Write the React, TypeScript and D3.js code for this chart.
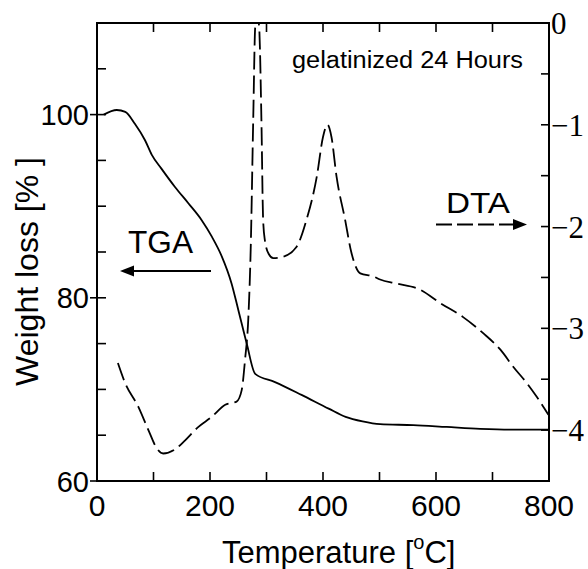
import React from "react";
import * as d3 from "d3";

const tgaTemp = [12, 35, 50, 67, 85, 97, 114, 138, 162, 185, 203, 221, 238, 250, 265, 280, 315, 362, 410, 440, 470, 501, 560, 619, 678, 737, 800];
const tgaWeight = [100.0, 100.5, 100.3, 99.0, 97.2, 95.6, 94.1, 92.1, 90.3, 88.5, 86.7, 84.5, 81.6, 78.7, 75.0, 71.7, 70.8, 69.4, 67.9, 67.0, 66.5, 66.2, 66.1, 65.9, 65.7, 65.6, 65.6];

const dtaTemp = [37, 50, 73, 91, 106, 117, 138, 156, 179, 203, 227, 247, 256, 262, 268, 272, 276.5, 280, 283.5, 287, 291, 294, 297, 304, 312, 327, 353, 371, 389, 400, 408, 415, 424, 439, 450, 466, 489, 501, 530, 572, 607, 648, 684, 714, 737, 761, 778, 799];
const dtaValue = [-3.34, -3.54, -3.77, -4.0, -4.18, -4.23, -4.19, -4.1, -3.97, -3.87, -3.75, -3.72, -3.61, -3.31, -2.88, -2.23, -0.95, -0.04, 0.08, -0.04, -0.95, -1.93, -2.13, -2.27, -2.31, -2.3, -2.2, -1.93, -1.51, -1.12, -1.0, -1.12, -1.51, -1.93, -2.25, -2.46, -2.49, -2.52, -2.56, -2.62, -2.75, -2.89, -3.05, -3.21, -3.38, -3.54, -3.67, -3.85];

const xMajorTicks = [0, 200, 400, 600, 800];
const xMinorTicks = [100, 200, 300, 400, 500, 600, 700];
const yLeftMajor = [60, 80, 100];
const yLeftMinor = [65, 70, 75, 85, 90, 95, 105];
const yRightMajor = [0, -1, -2, -3, -4];
const yRightMinor = [-0.5, -1, -1.5, -2, -2.5, -3, -3.5, -4];

const W = 588, H = 569;
const L = 97, R = 549, T = 23, B = 481;

export default function App() {
  const x = d3.scaleLinear().domain([0, 800]).range([L, R]);
  const yL = d3.scaleLinear().domain([60, 110]).range([B, T]);
  const yR = d3.scaleLinear().domain([-4.5, 0]).range([B, T]);

  const tga = tgaTemp.map((t, i) => [t, tgaWeight[i]] as [number, number]);
  const dta = dtaTemp.map((t, i) => [t, dtaValue[i]] as [number, number]);

  const tgaLine = d3.line<[number, number]>().x(d => x(d[0])).y(d => yL(d[1])).curve(d3.curveMonotoneX);
  const dtaLine = d3.line<[number, number]>().x(d => x(d[0])).y(d => yR(d[1])).curve(d3.curveMonotoneX);

  const sans = "Arial, 'Liberation Sans', Helvetica, sans-serif";
  const serif = "'Times New Roman', 'Liberation Serif', Times, serif";

  return (
    <svg width={W} height={H} style={{ position: "absolute", left: 0, top: 0, background: "#fff" }}>
      <defs>
        <clipPath id="plot">
          <rect x={L} y={T} width={R - L} height={B - T} />
        </clipPath>
      </defs>
      <rect x={0} y={0} width={W} height={H} fill="#fff" />

      {/* curves */}
      <g clipPath="url(#plot)">
        <path d={tgaLine(tga) || ""} fill="none" stroke="#000" strokeWidth={1.8} />
        <path d={dtaLine(dta) || ""} fill="none" stroke="#000" strokeWidth={1.8} strokeDasharray="18,6" />
      </g>

      {/* frame */}
      <rect x={L} y={T} width={R - L} height={B - T} fill="none" stroke="#000" strokeWidth={2} />

      {/* x ticks */}
      {xMinorTicks.map(v => (
        <g key={"xt" + v}>
          <line x1={x(v)} x2={x(v)} y1={B} y2={B - 9} stroke="#000" strokeWidth={1.6} />
          <line x1={x(v)} x2={x(v)} y1={T} y2={T + 9} stroke="#000" strokeWidth={1.6} />
        </g>
      ))}
      {xMajorTicks.map(v => (
        <text key={"xl" + v} x={x(v)} y={516} fontFamily={sans} fontSize={30} textAnchor="middle">{v}</text>
      ))}

      {/* left ticks */}
      {yLeftMinor.map(v => (
        <line key={"lm" + v} x1={L} x2={L + 9} y1={yL(v)} y2={yL(v)} stroke="#000" strokeWidth={1.6} />
      ))}
      {yLeftMajor.map(v => (
        <g key={"lM" + v}>
          <line x1={L - 7} x2={L + 9} y1={yL(v)} y2={yL(v)} stroke="#000" strokeWidth={1.6} />
          <text x={89} y={yL(v) + 10.5} fontFamily={sans} fontSize={29} textAnchor="end">{v}</text>
        </g>
      ))}

      {/* right ticks */}
      {yRightMinor.map(v => (
        <line key={"rm" + v} x1={R - 8} x2={R} y1={yR(v)} y2={yR(v)} stroke="#000" strokeWidth={1.6} />
      ))}
      {yRightMajor.map(v => (
        <text key={"rl" + v} x={551} y={yR(v) + 11} fontFamily={serif} fontSize={31} textAnchor="start">
          {v === 0 ? "0" : "\u2212" + Math.abs(v)}
        </text>
      ))}

      {/* axis titles */}
      <text x={222} y={563} fontFamily={sans} fontSize={31} textAnchor="start">
        Temperature [<tspan fontSize={20} dy={-14}>o</tspan><tspan dy={14}>C]</tspan>
      </text>
      <text transform={`translate(38, 271.5) rotate(-90)`} fontFamily={sans} fontSize={32} textAnchor="middle">
        Weight loss [% ]
      </text>

      {/* annotations */}
      <text x={292} y={68} fontFamily={sans} fontSize={23} textLength={231} lengthAdjust="spacingAndGlyphs">gelatinized 24 Hours</text>
      <text x={128} y={253} fontFamily={sans} fontSize={31} textLength={65} lengthAdjust="spacingAndGlyphs">TGA</text>
      <line x1={131} x2={211} y1={271} y2={271} stroke="#000" strokeWidth={2} />
      <path d="M120,271 L134,265.5 L134,276.5 Z" fill="#000" />
      <text x={446} y={213} fontFamily={sans} fontSize={30} textLength={64} lengthAdjust="spacingAndGlyphs">DTA</text>
      <line x1={436} x2={514} y1={224.5} y2={224.5} stroke="#000" strokeWidth={2} strokeDasharray="16,5" />
      <path d="M527,224.5 L513,219 L513,230 Z" fill="#000" />
    </svg>
  );
}
